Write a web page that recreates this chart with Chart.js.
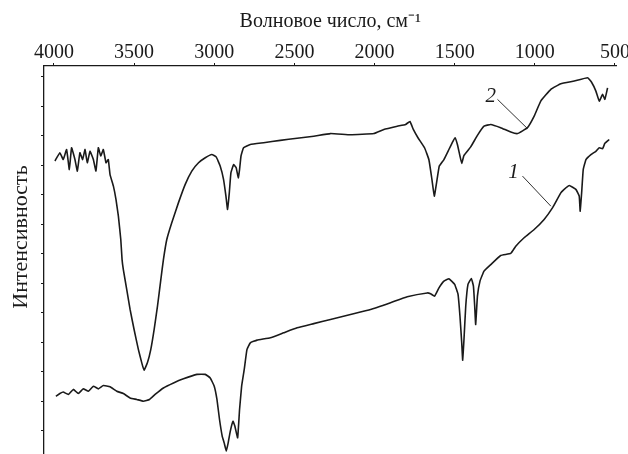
<!DOCTYPE html>
<html>
<head>
<meta charset="utf-8">
<script src="https://cdn.jsdelivr.net/npm/chart.js@4"></script>
<style>
  html, body { margin: 0; padding: 0; background: #fff; overflow: hidden; }
  #grafica { display: block; }
</style>
</head>
<body>
<canvas id="grafica" width="628" height="476"></canvas>
<script>
const TICKS_X = [4000, 3500, 3000, 2500, 2000, 1500, 1000, 500];
const TICKS_Y = [0, 10, 20, 30, 40, 50, 60, 70, 80, 90, 100, 110, 120, 130];

// кривая 1 (нижняя)
const NU_1 = [
  3988, 3963, 3942, 3910, 3879, 3848, 3817, 3785, 3754, 3723, 3692, 3650, 3608, 3567,
  3525, 3483, 3442, 3404, 3369, 3317, 3254, 3192, 3108, 3056, 3025, 3000, 2983, 2967,
  2950, 2938, 2925, 2913, 2900, 2883, 2871, 2854, 2842, 2829, 2813, 2796, 2775, 2733,
  2650, 2567, 2483, 2379, 2275, 2150, 2025, 1900, 1796, 1671, 1650, 1625, 1598, 1567,
  1536, 1500, 1479, 1467, 1456, 1450, 1442, 1431, 1417, 1396, 1383, 1375, 1369, 1358,
  1342, 1317, 1275, 1213, 1150, 1119, 1067, 1004, 942, 889, 838, 817, 785, 744,
  723, 717, 708, 698, 681, 650, 619, 598, 577, 563, 536,
];
const INT_1 = [
  21.7, 22.6, 23.1, 22.3, 24.0, 22.6, 24.2, 23.4, 25.1, 24.2, 25.3, 24.9, 23.4, 22.6,
  21.1, 20.6, 20.0, 20.6, 22.3, 24.5, 26.2, 27.6, 29.1, 29.1, 27.9, 25.1, 20.6, 13.8,
  8.1, 5.9, 3.1, 5.9, 9.8, 13.2, 11.5, 7.6, 17.2, 25.1, 30.7, 37.5, 39.8, 40.7,
  41.5, 43.2, 44.9, 46.3, 47.7, 49.4, 51.1, 53.4, 55.4, 56.7, 56.4, 55.6, 58.4, 60.7,
  61.5, 59.6, 56.2, 48.8, 39.8, 33.9, 40.9, 52.2, 59.6, 61.6, 59.0, 52.2, 46.0, 55.6,
  60.7, 64.1, 66.3, 69.4, 70.1, 72.5, 75.4, 78.2, 81.6, 85.6, 90.6, 91.8, 93.1, 91.8,
  89.5, 84.4, 90.6, 98.5, 101.9, 103.6, 104.7, 105.9, 105.6, 107.4, 108.7,
];

// кривая 2 (верхняя)
const NU_2 = [
  3994, 3963, 3942, 3921, 3904, 3890, 3869, 3854, 3838, 3821, 3806, 3792, 3775, 3754,
  3738, 3723, 3708, 3692, 3675, 3661, 3650, 3629, 3613, 3598, 3583, 3575, 3567, 3546,
  3525, 3500, 3473, 3452, 3438, 3417, 3396, 3375, 3354, 3333, 3317, 3296, 3265, 3223,
  3181, 3140, 3098, 3056, 3015, 2988, 2963, 2942, 2927, 2917, 2906, 2896, 2879, 2863,
  2850, 2842, 2833, 2817, 2775, 2692, 2588, 2483, 2379, 2275, 2150, 2004, 1942, 1858,
  1806, 1779, 1758, 1729, 1688, 1661, 1642, 1627, 1613, 1596, 1567, 1536, 1515, 1498,
  1483, 1467, 1456, 1442, 1400, 1358, 1317, 1275, 1213, 1150, 1108, 1046, 1004, 963,
  900, 838, 754, 671, 646, 619, 598, 577, 563, 546,
];
const INT_2 = [
  101.4, 104.2, 101.9, 105.3, 98.5, 105.9, 101.9, 98.0, 104.2, 101.9, 105.3, 100.8, 104.7, 101.9,
  98.0, 105.9, 103.1, 105.3, 100.8, 101.9, 96.8, 92.9, 88.4, 82.7, 74.8, 68.0, 64.6, 57.9,
  51.1, 44.3, 37.5, 33.0, 30.5, 33.0, 37.5, 44.3, 52.2, 61.3, 68.0, 74.8, 80.5, 87.3,
  93.5, 98.0, 100.8, 102.5, 103.6, 102.8, 99.7, 95.2, 89.5, 85.0, 90.6, 97.4, 100.2, 99.1,
  95.7, 98.5, 103.1, 105.9, 107.0, 107.6, 108.4, 109.1, 109.8, 110.7, 110.3, 110.7, 112.1, 113.2,
  113.8, 114.8, 112.1, 109.3, 105.9, 101.9, 95.2, 89.5, 94.0, 99.7, 101.9, 105.3, 107.6, 109.3,
  107.0, 103.1, 100.6, 103.3, 106.2, 110.1, 113.2, 113.8, 112.7, 111.2, 110.7, 112.7, 116.6, 121.7,
  125.7, 127.6, 128.5, 129.6, 128.1, 125.1, 121.7, 124.0, 122.3, 126.2,
];

const aPuntos = (xs, ys) => xs.map((x, i) => ({ x: x, y: ys[i] }));

const FUENTE = "'Liberation Serif', 'Times New Roman', serif";
const NEGRO = "#1a1a1a";

// подписи кривых и выносные линии
const etiquetasCurvas = {
  id: "etiquetasCurvas",
  afterDatasetsDraw(chart, args, opts) {
    const { ctx, scales } = chart;
    const px = (p) => [scales.x.getPixelForValue(p[0]), scales.y.getPixelForValue(p[1])];
    ctx.save();
    opts.items.forEach((it) => {
      const [x1, y1] = px(it.desde);
      const [x2, y2] = px(it.hasta);
      ctx.strokeStyle = NEGRO;
      ctx.lineWidth = 0.9;
      ctx.beginPath();
      ctx.moveTo(x1, y1);
      ctx.lineTo(x2, y2);
      ctx.stroke();
      const [tx, ty] = px(it.en);
      ctx.fillStyle = NEGRO;
      ctx.font = "italic 21px " + FUENTE;
      ctx.textAlign = "center";
      ctx.textBaseline = "middle";
      ctx.fillText(it.texto, tx, ty);
    });
    ctx.restore();
  },
};

// подпись оси Y (по центру не области графика, а как в оригинале)
const tituloY = {
  id: "tituloY",
  afterDraw(chart, args, opts) {
    const { ctx } = chart;
    ctx.save();
    ctx.translate(opts.x, opts.y);
    ctx.rotate(-Math.PI / 2);
    ctx.fillStyle = NEGRO;
    ctx.font = "22px " + FUENTE;
    ctx.textAlign = "center";
    ctx.textBaseline = "middle";
    ctx.fillText(opts.texto, 0, 0);
    ctx.restore();
  },
};

new Chart(document.getElementById("grafica"), {
  type: "line",
  data: {
    datasets: [
      {
        label: "1",
        data: aPuntos(NU_1, INT_1),
        borderColor: NEGRO,
        borderWidth: 1.6,
        pointRadius: 0,
        tension: 0.1,
        fill: false,
      },
      {
        label: "2",
        data: aPuntos(NU_2, INT_2),
        borderColor: NEGRO,
        borderWidth: 1.6,
        pointRadius: 0,
        tension: 0.1,
        fill: false,
      },
    ],
  },
  options: {
    responsive: false,
    animation: false,
    layout: { padding: { top: 0, left: 0, right: 11, bottom: 1 } },
    plugins: {
      legend: { display: false },
      tooltip: { enabled: false },
      etiquetasCurvas: {
        items: [
          { texto: "1", en: [1133, 97.4], desde: [1077, 96.3], hasta: [900, 86.1] },
          { texto: "2", en: [1275, 123.2], desde: [1233, 122.3], hasta: [1046, 112.4] },
        ],
      },
      tituloY: { texto: "Интенсивность", x: 21, y: 237 },
    },
    scales: {
      x: {
        type: "linear",
        position: "top",
        reverse: true,
        min: 490,
        max: 4062,
        afterFit(scale) { scale.height = 66; },
        afterBuildTicks(scale) { scale.ticks = TICKS_X.map((v) => ({ value: v })); },
        border: { color: NEGRO, width: 1.3 },
        grid: { drawOnChartArea: false, drawTicks: true, tickLength: 3, color: NEGRO },
        ticks: {
          color: NEGRO,
          padding: -2,
          maxRotation: 0,
          autoSkip: false,
          font: { family: FUENTE, size: 20 },
          callback: (v) => String(v),
        },
        title: {
          display: true,
          text: "Волновое число, см⁻¹",
          color: NEGRO,
          padding: { top: 10, bottom: 0 },
          font: { family: FUENTE, size: 20 },
        },
      },
      y: {
        type: "linear",
        position: "left",
        min: -5,
        max: 133.6,
        afterFit(scale) { scale.width = 44; },
        afterBuildTicks(scale) { scale.ticks = TICKS_Y.map((v) => ({ value: v })); },
        border: { color: NEGRO, width: 1.3 },
        grid: { drawOnChartArea: false, drawTicks: true, tickLength: 3, color: NEGRO },
        ticks: { display: false },
      },
    },
  },
  plugins: [etiquetasCurvas, tituloY],
});
</script>
</body>
</html>
